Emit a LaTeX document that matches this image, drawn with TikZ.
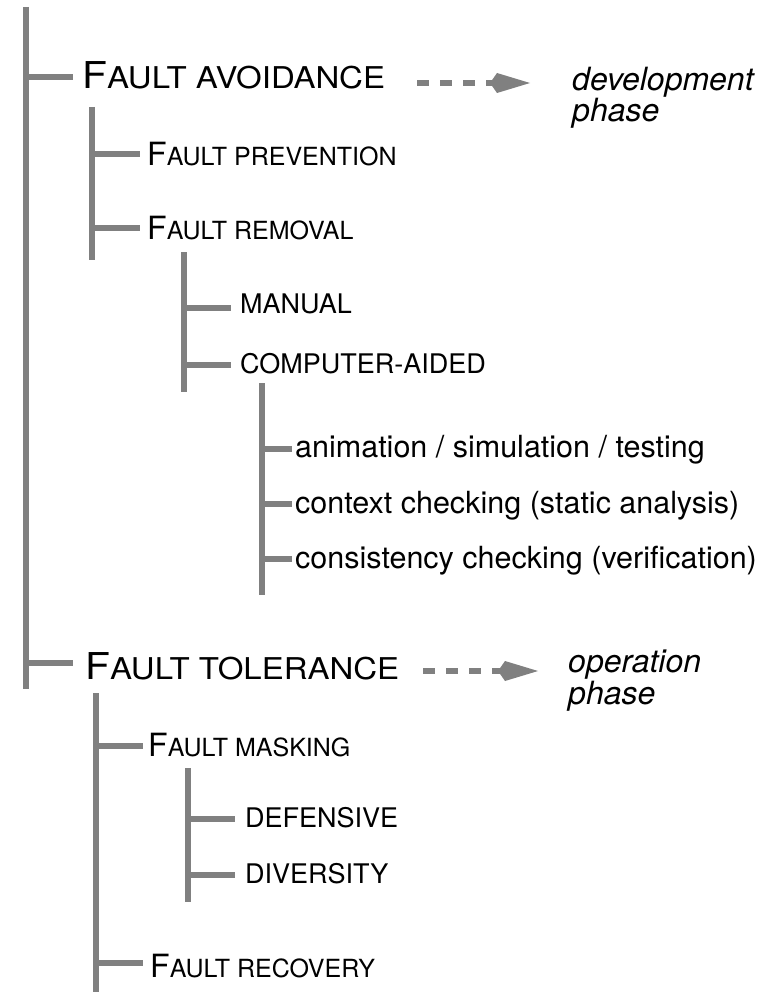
\documentclass[tikz,border=0pt]{standalone}
\usepackage{fontspec}
\setmainfont{TeX Gyre Heros}
\newfontfamily\wideheros[FakeStretch=1.1]{TeX Gyre Heros}
\usetikzlibrary{arrows.meta, positioning, calc}

\newcommand{\bigini}[2]{{\fontsize{#1}{#1}\selectfont #2}}

\tikzset{
  bar/.style={draw=black!50, line width=5.5pt},
  branch/.style={draw=black!50, line width=5.5pt},
  lvlone/.style={anchor=base west, inner sep=0, font=\wideheros\fontsize{30}{32}\selectfont},
  lvltwo/.style={anchor=base west, inner sep=0, font=\fontsize{25}{27}\selectfont},
  capitem/.style={anchor=base west, inner sep=0, font=\fontsize{27}{29}\selectfont},
  lowitem/.style={anchor=base west, inner sep=0, font=\fontsize{30.5}{32}\selectfont},
  phase/.style={anchor=base west, inner sep=0, align=left, font=\fontsize{32}{30}\selectfont\itshape},
  phasearrow/.style={draw=black!50, line width=5.5pt, dash pattern=on 12pt off 11pt,
    -{Kite[length=40pt, width=20pt, inset=7pt, sep=0pt]}},
}

\begin{document}
\begin{tikzpicture}[x=1pt, y=-1pt]
\useasboundingbox (0,0) rectangle (781,992);
% bars
\coordinate (b0top) at (26,7);    \coordinate (b0bot) at (26,689);
\coordinate (b1top) at (92,107);  \coordinate (b1bot) at (92,260);
\coordinate (b2top) at (184,252); \coordinate (b2bot) at (184,392);
\coordinate (b3top) at (262,383); \coordinate (b3bot) at (262,595);
\coordinate (b4top) at (96,693);  \coordinate (b4bot) at (96,992);
\coordinate (b5top) at (188,768); \coordinate (b5bot) at (188,902);
\draw[bar] (b0top) -- (b0bot);
\draw[bar] (b1top) -- (b1bot);
\draw[bar] (b2top) -- (b2bot);
\draw[bar] (b3top) -- (b3bot);
\draw[bar] (b4top) -- (b4bot);
\draw[bar] (b5top) -- (b5bot);

\node[lvlone] (avoid) at (82,89) {\bigini{37}{F}AULT AVOIDANCE};
\node[lvltwo] (prevent) at (147,166) {\bigini{32}{F}AULT PREVENTION};
\node[lvltwo] (remove) at (147,240) {\bigini{32}{F}AULT REMOVAL};
\node[capitem] (manual) at (240,313) {MANUAL};
\node[capitem] (computer) at (240,373) {COMPUTER-AIDED};
\node[lowitem] (anim) at (295,457) {animation / simulation / testing};
\node[lowitem] (context) at (295,513) {context checking (static analysis)};
\node[lowitem] (consist) at (295,568) {consistency checking (verification)};
\node[lvlone] (toler) at (85,679) {\bigini{37}{F}AULT TOLERANCE};
\node[lvltwo] (mask) at (148,756) {\bigini{32}{F}AULT MASKING};
\node[capitem] (defens) at (245,827) {DEFENSIVE};
\node[capitem] (divers) at (245,883) {DIVERSITY};
\node[lvltwo] (recover) at (150,977) {\bigini{32}{F}AULT RECOVERY};

\node[phase] (devphase) at (572,122) {development\\phase};
\node[phase] (opphase) at (568,704) {operation\\phase};

% branches
\coordinate (jAvoid) at (26,77);     \coordinate (jToler) at (26,663);
\coordinate (jPrevent) at (92,154);  \coordinate (jRemove) at (92,228);
\coordinate (jManual) at (184,308);  \coordinate (jComputer) at (184,365);
\coordinate (jAnim) at (262,449);    \coordinate (jContext) at (262,504);
\coordinate (jConsist) at (262,559); \coordinate (jMask) at (96,746);
\coordinate (jDefens) at (188,819);  \coordinate (jDivers) at (188,875);
\coordinate (jRecover) at (96,963);
\draw[branch] (jAvoid) -- ([xshift=-9pt]jAvoid -| avoid.west);
\draw[branch] (jToler) -- ([xshift=-12pt]jToler -| toler.west);
\draw[branch] (jPrevent) -- ([xshift=-7pt]jPrevent -| prevent.west);
\draw[branch] (jRemove) -- ([xshift=-7pt]jRemove -| remove.west);
\draw[branch] (jManual) -- ([xshift=-9pt]jManual -| manual.west);
\draw[branch] (jComputer) -- ([xshift=-9pt]jComputer -| computer.west);
\draw[branch] (jAnim) -- ([xshift=-3pt]jAnim -| anim.west);
\draw[branch] (jContext) -- ([xshift=-3pt]jContext -| context.west);
\draw[branch] (jConsist) -- ([xshift=-3pt]jConsist -| consist.west);
\draw[branch] (jMask) -- ([xshift=-5pt]jMask -| mask.west);
\draw[branch] (jDefens) -- ([xshift=-10pt]jDefens -| defens.west);
\draw[branch] (jDivers) -- ([xshift=-10pt]jDivers -| divers.west);
\draw[branch] (jRecover) -- ([xshift=-7pt]jRecover -| recover.west);

% phase arrows
\coordinate (devFrom) at (417,83);  \coordinate (devTo) at (530,83);
\coordinate (opFrom) at (423,671);  \coordinate (opTo) at (538,671);
\draw[phasearrow] (devFrom) -- (devTo);
\draw[phasearrow] (opFrom) -- (opTo);
\end{tikzpicture}
\end{document}
